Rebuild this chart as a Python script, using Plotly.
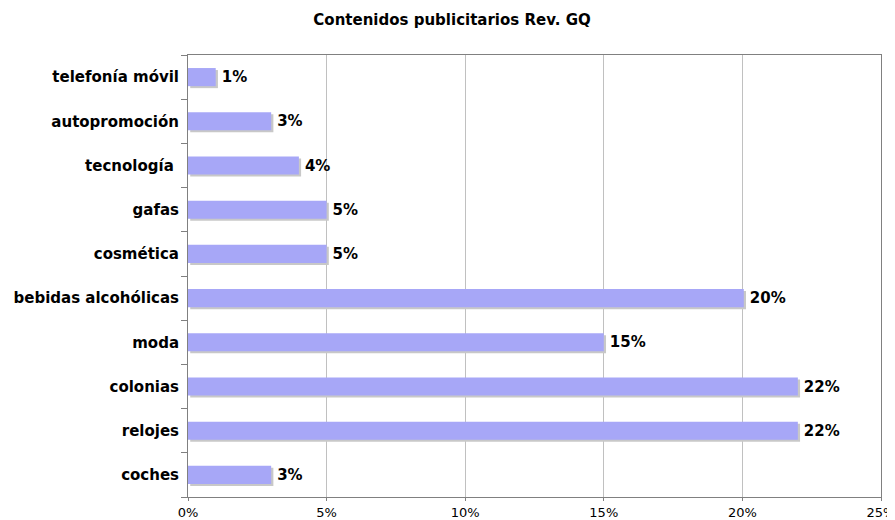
import plotly.graph_objects as go

# Data (Excel order: first category drawn at the bottom)
categories = ["coches", "relojes", "colonias", "moda", "bebidas alcohólicas",
              "cosmética", "gafas", "tecnología ", "autopromoción", "telefonía móvil"]
shares = [3.0, 22.0, 22.0, 15.0, 20.05, 5.0, 5.0, 4.0, 3.0, 1.0]
labels = ["3%", "22%", "22%", "15%", "20%", "5%", "5%", "4%", "3%", "1%"]
x_ticks = [0, 5, 10, 15, 20, 25]
x_tick_text = ["0%", "5%", "10%", "15%", "20%", "25%"]

BAR_COLOR = "#a7a7f7"
SHADOW_COLOR = "#c8c8c8"
FONT = "DejaVu Sans"

fig = go.Figure()

# soft drop shadow under each bar
fig.add_trace(go.Bar(
    y=categories, x=shares, base=0.08, orientation="h",
    width=0.41, offset=-0.25,
    marker=dict(color=SHADOW_COLOR, line=dict(width=0)),
    hoverinfo="skip", showlegend=False,
))

fig.add_trace(go.Bar(
    y=categories, x=shares, orientation="h",
    width=0.41, offset=-0.205,
    marker=dict(color=BAR_COLOR, line=dict(width=0)),
    text=labels, texttemplate="\u2009%{text}", textposition="outside",
    textfont=dict(family=FONT, size=15, color="black", weight="bold"),
    cliponaxis=False, showlegend=False,
))

# page body has an 8px margin, so the figure is sized to fit what remains
fig.update_layout(
    width=887, height=512,
    margin=dict(l=180, r=14, t=47, b=23),
    paper_bgcolor="white", plot_bgcolor="white",
    barmode="overlay",
    title=dict(text="<b>Contenidos publicitarios Rev. GQ</b>", x=0.5006, xanchor="center",
               y=0.977, yanchor="middle",
               font=dict(family=FONT, size=15, color="black")),
    font=dict(family=FONT, color="black"),
)

fig.update_xaxes(
    range=[0, 25], tickvals=x_ticks, ticktext=x_tick_text,
    showgrid=True, gridcolor="#c0c0c0", gridwidth=1,
    showline=True, linecolor="#808080", mirror=True,
    ticks="outside", ticklen=3, tickcolor="#808080",
    tickfont=dict(family=FONT, size=13, color="black"),
    ticklabeloverflow="allow",
    zeroline=False, fixedrange=True, automargin=False,
)
fig.update_yaxes(
    type="category", tickson="boundaries",
    showline=True, linecolor="#808080", mirror=True,
    ticks="outside", ticklen=6, tickcolor="#808080",
    tickfont=dict(family=FONT, size=15, color="black", weight="bold"),
    ticklabelstandoff=5,
    showgrid=False, fixedrange=True, automargin=False,
)

fig.write_html("out.html")
